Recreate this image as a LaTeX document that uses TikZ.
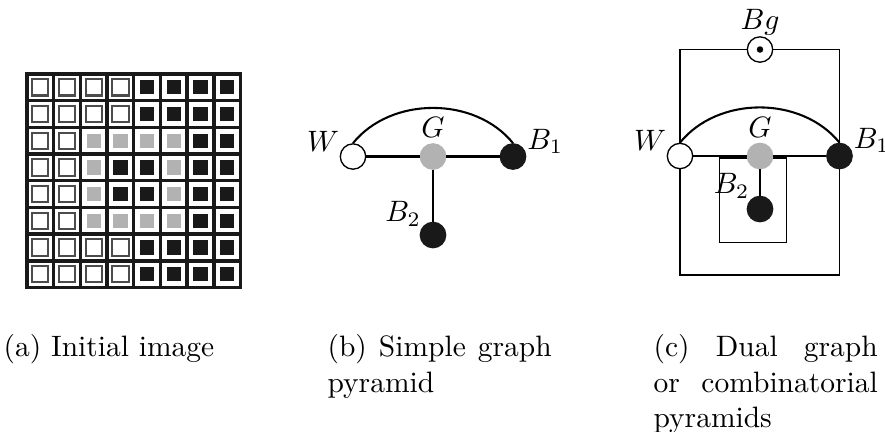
\documentclass[tikz,border=0pt]{standalone}
\usepackage{amsmath}
\usepackage{tikz}
\usetikzlibrary{calc}

\begin{document}
\begin{tikzpicture}[
    x=0.339pt, y=-0.339pt,
    font=\fontsize{10}{12}\selectfont,
    pixw/.style={rectangle, draw=black!70, line width=0.7pt, fill=white, minimum size=5.5pt, inner sep=0pt},
    pixb/.style={rectangle, fill=black!90, minimum size=4.8pt, inner sep=0pt},
    pixg/.style={rectangle, fill=black!30, minimum size=4.8pt, inner sep=0pt},
    sep/.style={line width=1.15pt, line cap=rect, black!90},
    vx/.style={circle, draw, line width=0.45pt, minimum size=8.6pt, inner sep=0pt},
    vw/.style={vx, fill=white},
    vg/.style={vx, draw=black!30, fill=black!30},
    vb/.style={vx, draw=black!90, fill=black!90},
    vbg/.style={vx, fill=white, path picture={\fill[black] (path picture bounding box.center) circle (1.1pt);}},
    lbl/.style={inner sep=0.2pt, font=\fontsize{10}{12}\selectfont},
    edge/.style={line width=0.7pt},
    stem/.style={line width=0.45pt},
    frame/.style={line width=0.5pt},
    captext/.style={anchor=north west, inner sep=0pt, text width=76pt, align=justify}
]
\useasboundingbox (0,0) rectangle (885,431);

% (a) the image
\begin{scope}[shift={(27,74)}, x=9.05pt, y=-9.05pt]
\foreach \row [count=\r from 0] in {{w,w,w,w,b,b,b,b}, {w,w,w,w,b,b,b,b},
    {w,w,g,g,g,g,b,b}, {w,w,g,b,b,g,b,b}, {w,w,g,b,b,g,b,b},
    {w,w,g,g,g,g,b,b}, {w,w,w,w,b,b,b,b}, {w,w,w,w,b,b,b,b}} {
  \foreach \t [count=\c from 0] in \row {
    \node[pix\t] (px\r\c) at (\c+0.5,\r+0.5) {};
  }
}
\foreach \k in {0,...,8} {
  \draw[sep] (\k,0) -- (\k,8);
  \draw[sep] (0,\k) -- (8,\k);
}
\end{scope}

% (b) simple graph
\node[vw, label={[lbl]162:$W$}] (bW) at (353,156.5) {};
\node[vg, label={[lbl, label distance=1.5pt]above:$G$}] (bG) at (433,156.5) {};
\node[vb, label={[lbl]8:$B_1$}] (bB1) at (513,156.5) {};
\node[vb, label={[lbl]145:$B_2$}] (bB2) at (433,235) {};
\draw[edge] (bW) -- (bG) -- (bB1);
\draw[stem] (bG) -- (bB2);
\draw[edge] (bW.north) .. controls +(38,-47) and +(-38,-47) .. (bB1.north);

% (c) dual graph
\draw[frame] (719.5,158) rectangle (786.5,242.5);
\node[vbg, label={[lbl]above:$Bg$}] (cBg) at (760,49.5) {};
\node[vw, label={[lbl]162:$W$}] (cW) at (680,156) {};
\node[vg, label={[lbl, label distance=1.5pt]above:$G$}] (cG) at (760,156) {};
\node[vb, label={[lbl]8:$B_1$}] (cB1) at (839.5,156) {};
\node[vb, label={[lbl]135:$B_2$}] (cB2) at (760,209) {};
\coordinate (cBot) at (760,275);
\draw[frame] (cBg.west) -| (cW.north);
\draw[frame] (cBg.east) -| (cB1.north);
\draw[frame] (cW.south) |- (cBot) -| (cB1.south);
\draw[edge] (cW) -- (cG) -- (cB1);
\draw[stem] (cG) -- (cB2);
\draw[edge] (cW.north) .. controls +(38,-47) and +(-38,-47) .. (cB1.north);

\node[captext] (capa) at (3,334) {(a) Initial image};
\node[captext] (capb) at (327,334) {(b) Simple graph pyramid};
\node[captext] (capc) at (653,334) {(c) Dual graph\linebreak or combinatorial pyramids};
\end{tikzpicture}
\end{document}
